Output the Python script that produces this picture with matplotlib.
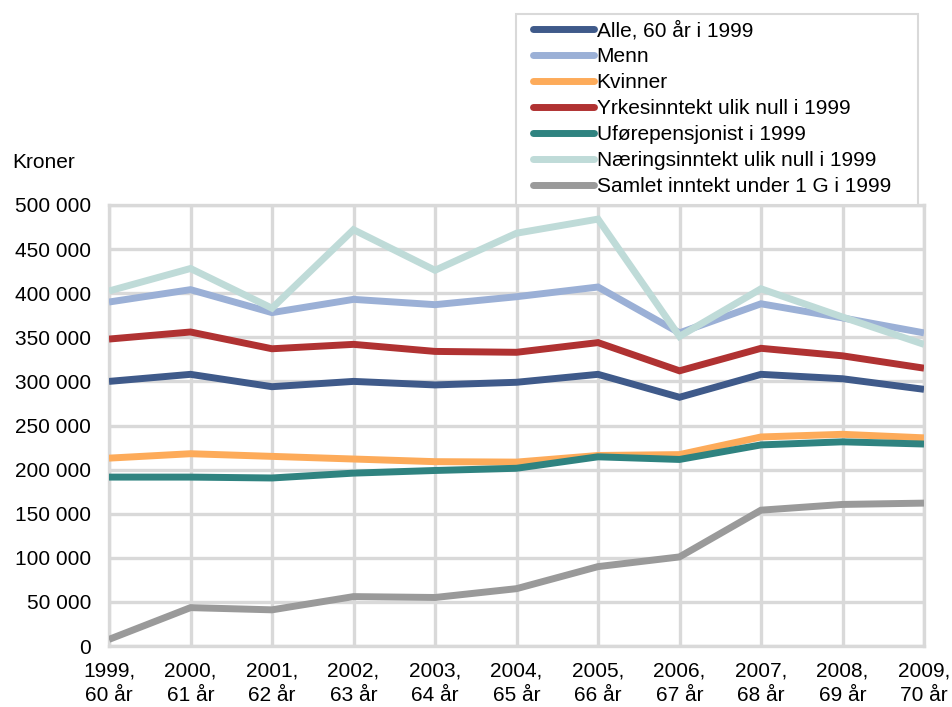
import numpy as np
import matplotlib
matplotlib.use("Agg")
import matplotlib.pyplot as plt
from matplotlib.ticker import FuncFormatter
from matplotlib.patches import Rectangle

plt.rcParams['font.family'] = ['Liberation Sans', 'DejaVu Sans']

years = ['1999', '2000', '2001', '2002', '2003', '2004', '2005', '2006', '2007', '2008', '2009']
ages = ['60 år', '61 år', '62 år', '63 år', '64 år', '65 år', '66 år', '67 år', '68 år', '69 år', '70 år']
x_labels = [f"{y},\n{a}" for y, a in zip(years, ages)]

alle = [300000, 308000, 294000, 300000, 296000, 299000, 308000, 282000, 308000, 303000, 291000]
menn = [390000, 404000, 378000, 393000, 387000, 396000, 407000, 355000, 388000, 372000, 355000]
kvinner = [213000, 218000, 215000, 212000, 209000, 208500, 216000, 217000, 237000, 240000, 236000]
yrkes = [348000, 356000, 337000, 342000, 334000, 333000, 344000, 312000, 337500, 329000, 315000]
ufore = [191500, 191500, 190500, 196000, 199000, 201500, 214500, 211500, 228000, 231500, 229000]
naering = [402500, 428000, 383000, 472000, 426000, 468000, 484000, 351000, 405000, 373000, 342000]
samlet = [7500, 43500, 41000, 56000, 55000, 65000, 90000, 101000, 154000, 160500, 162000]

series = [
    ('Alle, 60 år i 1999', alle, '#3f5a8a'),
    ('Menn', menn, '#9bb0d6'),
    ('Kvinner', kvinner, '#fdab5a'),
    ('Yrkesinntekt ulik null i 1999', yrkes, '#b03232'),
    ('Uførepensjonist i 1999', ufore, '#2f8380'),
    ('Næringsinntekt ulik null i 1999', naering, '#bfdbd8'),
    ('Samlet inntekt under 1 G i 1999', samlet, '#9a9a9a'),
]

W, H = 952, 707
fs = 15
fig = plt.figure(figsize=(W/100, H/100), dpi=100)
ax = fig.add_axes([109/W, 1 - 646/H, (924 - 109)/W, (646 - 205)/H])

xs = np.arange(len(years))
for label, vals, color in series:
    ax.plot(xs, vals, color=color, lw=5, label=label, zorder=3,
            solid_joinstyle='miter', solid_capstyle='butt')

grid_col = '#d9d9d9'
ax.set_xlim(0, len(years) - 1)
ax.set_ylim(0, 500000)
ax.set_yticks(np.arange(0, 500001, 50000))
ax.yaxis.set_major_formatter(FuncFormatter(lambda v, p: f"{int(v):,}".replace(",", " ")))
ax.set_xticks(xs)
ax.set_xticklabels(x_labels, linespacing=1.4)
ax.grid(True, color=grid_col, lw=2.4, zorder=1)
ax.set_axisbelow(True)
for s in ax.spines.values():
    s.set_color(grid_col)
    s.set_linewidth(2.4)
ax.tick_params(length=0, labelsize=fs, colors='black')
ax.tick_params(axis='y', pad=13)
ax.tick_params(axis='x', pad=11)

fig.text(12/W, 1 - 163/H, 'Kroner', fontsize=fs, va='center', ha='left')

# legend box
fig.patches.append(Rectangle((516/W, 1 - 205/H), (918 - 516)/W, (205 - 14)/H,
                             transform=fig.transFigure, facecolor='white',
                             edgecolor=grid_col, lw=1.5, zorder=5))
leg = fig.legend(loc='upper left', bbox_to_anchor=(533/W, 1 - 21/H),
                 fontsize=fs, frameon=False, borderaxespad=0, borderpad=0,
                 handlelength=2.95, handletextpad=0.1, labelspacing=0.33)
leg.set_zorder(6)
for h in leg.get_lines():
    h.set_linewidth(5)
    h.set_solid_capstyle('round')

fig.savefig('out.png', dpi=100)
